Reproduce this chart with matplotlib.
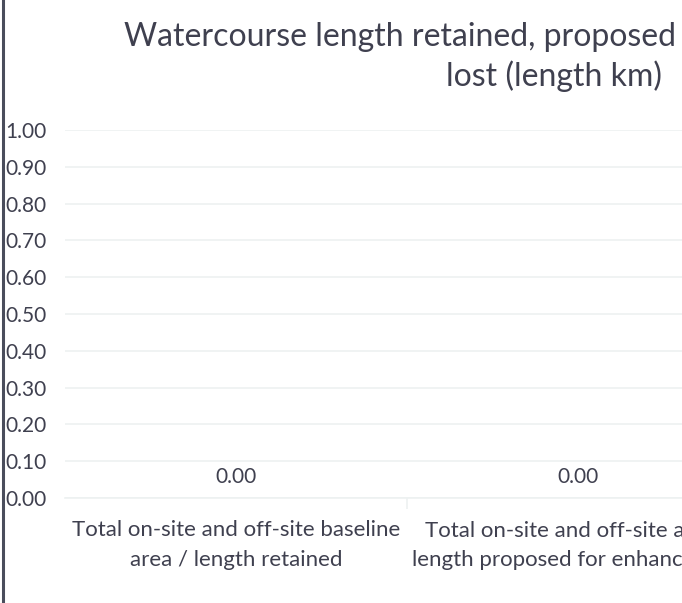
import matplotlib.pyplot as plt
from matplotlib.lines import Line2D

plt.rcParams['font.family'] = ['Lato', 'DejaVu Sans']

title = 'Watercourse length retained, proposed for enhancement and\nlost (length km)'
categories = ['Total on-site and off-site baseline\narea / length retained',
              'Total on-site and off-site area /\nlength proposed for enhancement',
              'Total on-site and off-site area /\nlength lost']
values = [0.0, 0.0, 0.0]
yticks = [0.0, 0.1, 0.2, 0.3, 0.4, 0.5, 0.6, 0.7, 0.8, 0.9, 1.0]

txt = '#3f404f'
grid = '#edf1f1'

W, H = 682, 603
fig = plt.figure(figsize=(W / 100, H / 100), dpi=100)
# the chart is wider than the picture, so the axes runs off the right edge
ax = fig.add_axes([65 / W, 1 - 498 / H, 3 * 342 / W, (498 - 130) / H])

x = list(range(len(categories)))
bars = ax.bar(x, values, width=0.6, color='#4472c4')
ax.set_xlim(-0.5, len(categories) - 0.5)
ax.set_ylim(0, 1)
ax.set_yticks(yticks)
ax.set_yticklabels(['%.2f' % v for v in yticks], fontsize=15, color=txt)
ax.tick_params(axis='y', length=0, pad=13.5)
ax.set_xticks(x)
ax.set_xticklabels(categories, fontsize=16, color=txt, linespacing=1.6)
ax.tick_params(axis='x', length=0, pad=16)
ax.set_xticks([i + 0.5 for i in x[:-1]], minor=True)
ax.tick_params(axis='x', which='minor', length=8, color=grid, width=1.2)

ax.grid(axis='y', color=grid, linewidth=1.2)
ax.set_axisbelow(True)
for s in ['top', 'right', 'left']:
    ax.spines[s].set_visible(False)
ax.spines['bottom'].set_color(grid)
ax.spines['bottom'].set_linewidth(1.2)

for i, v in enumerate(values):
    ax.annotate('%.2f' % v, (i, v), xytext=(0, 8), textcoords='offset points',
                ha='center', va='bottom', fontsize=15, color=txt)

fig.text(554 / W, 1 - 57 / H, title, ha='center', va='center', fontsize=23,
         color=txt, linespacing=1.3)

fig.add_artist(Line2D([2.5 / W, 2.5 / W], [0, 1], color='#4a4d5c', linewidth=2.2,
                      transform=fig.transFigure))

fig.savefig('out.png', dpi=100)
